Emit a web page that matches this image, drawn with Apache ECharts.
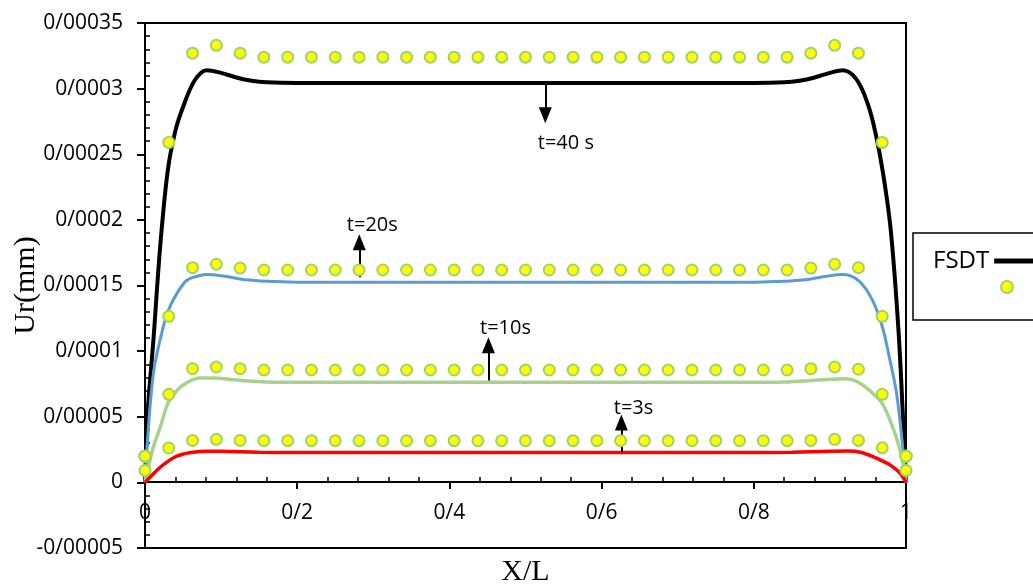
<!DOCTYPE html>
<html><head><meta charset="utf-8">
<script src="https://cdn.jsdelivr.net/npm/echarts@6/dist/echarts.min.js"></script>
<style>html,body{margin:0;padding:0;background:#fff}#c{width:1033px;height:585px}</style>
</head><body><div id="c"></div>
<script>
// ---- tick labels ----
const xTickLabels = ['0', '0/2', '0/4', '0/6', '0/8', '1'];
const yTickLabels = ['-0/00005', '0', '0/00005', '0/0001', '0/00015', '0/0002', '0/00025', '0/0003', '0/00035'];

// ---- FSDT curves (X/L, Ur in mm) ----
const x40 = [0, 0.004, 0.011, 0.02, 0.03, 0.04, 0.05, 0.065, 0.081, 0.1, 0.12, 0.14, 0.16, 0.2, 0.5, 0.8, 0.84, 0.86, 0.88, 0.9, 0.917, 0.935, 0.95, 0.96, 0.97, 0.98, 0.99, 0.996, 1];
const y40 = [0, 5.7e-5, 1.08e-4, 1.80e-4, 2.38e-4, 2.68e-4, 2.86e-4, 3.06e-4, 3.14e-4, 3.12e-4, 3.085e-4, 3.06e-4, 3.048e-4, 3.043e-4, 3.043e-4, 3.043e-4, 3.048e-4, 3.06e-4, 3.085e-4, 3.12e-4, 3.14e-4, 3.07e-4, 2.88e-4, 2.66e-4, 2.35e-4, 1.92e-4, 1.17e-4, 5.0e-5, 0];

const x20 = [0, 0.003, 0.011, 0.02, 0.03, 0.042, 0.055, 0.068, 0.081, 0.1, 0.12, 0.14, 0.17, 0.2, 0.5, 0.8, 0.83, 0.86, 0.88, 0.9, 0.917, 0.938, 0.956, 0.969, 0.978, 0.987, 0.993, 1];
const y20 = [0, 3.0e-5, 8.3e-5, 1.09e-4, 1.30e-4, 1.44e-4, 1.54e-4, 1.57e-4, 1.583e-4, 1.575e-4, 1.555e-4, 1.54e-4, 1.53e-4, 1.525e-4, 1.525e-4, 1.525e-4, 1.53e-4, 1.54e-4, 1.555e-4, 1.575e-4, 1.583e-4, 1.535e-4, 1.387e-4, 1.184e-4, 9.55e-5, 7.0e-5, 4.2e-5, 0];

const x10 = [0, 0.005, 0.011, 0.02, 0.03, 0.042, 0.055, 0.072, 0.09, 0.11, 0.13, 0.16, 0.2, 0.5, 0.8, 0.84, 0.87, 0.9, 0.921, 0.935, 0.947, 0.958, 0.969, 0.9825, 0.9934, 1];
const y10 = [0, 1.3e-5, 2.7e-5, 4.2e-5, 6.0e-5, 7.0e-5, 7.6e-5, 7.95e-5, 7.95e-5, 7.85e-5, 7.75e-5, 7.65e-5, 7.62e-5, 7.62e-5, 7.62e-5, 7.65e-5, 7.75e-5, 7.85e-5, 7.9e-5, 7.7e-5, 7.26e-5, 6.7e-5, 6.0e-5, 4.2e-5, 2.2e-5, 0];

const x3 = [0, 0.01, 0.02, 0.03, 0.04, 0.05, 0.06, 0.08, 0.1, 0.15, 0.2, 0.5, 0.8, 0.85, 0.9, 0.923, 0.94, 0.958, 0.97, 0.98, 0.993, 1];
const y3 = [0, 6.0e-6, 1.15e-5, 1.6e-5, 1.95e-5, 2.15e-5, 2.28e-5, 2.38e-5, 2.37e-5, 2.3e-5, 2.28e-5, 2.28e-5, 2.28e-5, 2.3e-5, 2.37e-5, 2.39e-5, 2.3e-5, 1.93e-5, 1.6e-5, 1.3e-5, 6.6e-6, 0];

// ---- reference points (dots) ----
const dotX = [0, 0.03125, 0.0625, 0.09375, 0.125, 0.15625, 0.1875, 0.21875, 0.25, 0.28125, 0.3125, 0.34375, 0.375, 0.40625, 0.4375, 0.46875, 0.5, 0.53125, 0.5625, 0.59375, 0.625, 0.65625, 0.6875, 0.71875, 0.75, 0.78125, 0.8125, 0.84375, 0.875, 0.90625, 0.9375, 0.96875, 1];
const dot40 = [2.0e-5, 2.59e-4, 3.27e-4, 3.33e-4, 3.27e-4, 3.24e-4, 3.24e-4, 3.24e-4, 3.24e-4, 3.24e-4, 3.24e-4, 3.24e-4, 3.24e-4, 3.24e-4, 3.24e-4, 3.24e-4, 3.24e-4, 3.24e-4, 3.24e-4, 3.24e-4, 3.24e-4, 3.24e-4, 3.24e-4, 3.24e-4, 3.24e-4, 3.24e-4, 3.24e-4, 3.24e-4, 3.27e-4, 3.33e-4, 3.27e-4, 2.59e-4, 2.0e-5];
const dot20 = [2.0e-5, 1.265e-4, 1.636e-4, 1.662e-4, 1.633e-4, 1.618e-4, 1.618e-4, 1.618e-4, 1.618e-4, 1.618e-4, 1.618e-4, 1.618e-4, 1.618e-4, 1.618e-4, 1.618e-4, 1.618e-4, 1.618e-4, 1.618e-4, 1.618e-4, 1.618e-4, 1.618e-4, 1.618e-4, 1.618e-4, 1.618e-4, 1.618e-4, 1.618e-4, 1.618e-4, 1.618e-4, 1.633e-4, 1.662e-4, 1.636e-4, 1.265e-4, 2.0e-5];
const dot10 = [2.0e-5, 6.71e-5, 8.66e-5, 8.79e-5, 8.66e-5, 8.56e-5, 8.56e-5, 8.56e-5, 8.56e-5, 8.56e-5, 8.56e-5, 8.56e-5, 8.56e-5, 8.56e-5, 8.56e-5, 8.56e-5, 8.56e-5, 8.56e-5, 8.56e-5, 8.56e-5, 8.56e-5, 8.56e-5, 8.56e-5, 8.56e-5, 8.56e-5, 8.56e-5, 8.56e-5, 8.56e-5, 8.66e-5, 8.79e-5, 8.62e-5, 6.71e-5, 2.0e-5];
const dot3 = [9.1e-6, 2.62e-5, 3.2e-5, 3.28e-5, 3.2e-5, 3.18e-5, 3.18e-5, 3.18e-5, 3.18e-5, 3.18e-5, 3.18e-5, 3.18e-5, 3.18e-5, 3.18e-5, 3.18e-5, 3.18e-5, 3.18e-5, 3.18e-5, 3.18e-5, 3.18e-5, 3.18e-5, 3.18e-5, 3.18e-5, 3.18e-5, 3.18e-5, 3.18e-5, 3.18e-5, 3.18e-5, 3.2e-5, 3.28e-5, 3.2e-5, 2.63e-5, 9.1e-6];

// ---- annotations: label, arrow x, arrow from y, arrow tip y, text x, text y ----
const annLabels = ['t=40 s', 't=20s', 't=10s', 't=3s'];
const annArrowX = [0.526, 0.2816, 0.4513, 0.626];
const annFromY = [3.043e-4, 1.563e-4, 7.77e-5, 2.29e-5];
const annToY = [2.797e-4, 1.829e-4, 1.044e-4, 4.57e-5];
const annTextX = [0.553, 0.2987, 0.4737, 0.642];
const annTextY = [2.584e-4, 1.959e-4, 1.174e-4, 5.64e-5];

const pts = (xs, ys) => xs.map((x, i) => [x, ys[i]]);
const SANS = 'Open Sans';
const SERIF = 'Liberation Serif';
const Y_MIN = -0.00005, Y_MAX = 0.00035, Y_STEP = 0.00005;

const chart = echarts.init(document.getElementById('c'), null, { renderer: 'canvas' });

const lineSeries = (name, xs, ys, color, width, z) => ({
  type: 'line', name, data: pts(xs, ys), smooth: 0.35, symbol: 'none', z,
  xAxisIndex: 0, yAxisIndex: 0,
  lineStyle: { color, width }, itemStyle: { color }, animation: false
});
const dotSeries = (ys) => ({
  type: 'scatter', name: 'Ref', data: pts(dotX, ys), symbol: 'circle', symbolSize: 11, z: 5,
  xAxisIndex: 0, yAxisIndex: 0,
  itemStyle: { color: '#FFFF00', borderColor: '#9ED36A', borderWidth: 2, opacity: 1 }, animation: false
});

const black = lineSeries('FSDT', x40, y40, '#000000', 4, 2);
black.markLine = {
  silent: true, animation: false, symbol: ['none', 'triangle'], symbolSize: [13, 16],
  lineStyle: { color: '#000', width: 2, type: 'solid' }, label: { show: false },
  data: annArrowX.map((x, i) => [
    { coord: [x, annFromY[i]], symbol: 'none' },
    { coord: [x, annToY[i]], symbol: 'triangle', symbolSize: [13, 16] }
  ])
};
black.markPoint = {
  silent: true, animation: false, symbol: 'circle', symbolSize: 1,
  itemStyle: { color: 'rgba(0,0,0,0)' },
  label: { show: true, position: 'inside', formatter: '{b}', color: '#000', fontFamily: SANS, fontSize: 20 },
  data: annLabels.map((t, i) => ({ name: t, coord: [annTextX[i], annTextY[i]] }))
};

// full plot rectangle, and the upper part of it that ends at the zero line
const fullBox = { left: 145, right: 127, top: 23, bottom: 37, outerBoundsMode: 'none', containLabel: false };
const upperBox = { left: 145, right: 127, top: 23, bottom: 103, outerBoundsMode: 'none', containLabel: false };

const hiddenX = (g) => ({ gridIndex: g, type: 'value', min: 0, max: 1, show: false });
const hiddenYUpper = (g) => ({ gridIndex: g, type: 'value', min: 0, max: Y_MAX, show: false });

const option = {
  animation: false,
  backgroundColor: '#fff',
  grid: [
    Object.assign({ show: true, borderColor: '#000', borderWidth: 2, backgroundColor: 'transparent' }, fullBox),
    Object.assign({ show: false }, fullBox),
    Object.assign({ show: false }, upperBox),
    Object.assign({ show: false }, upperBox)
  ],
  xAxis: [
    hiddenX(0),
    hiddenX(1),
    { // main X axis, drawn along the zero line
      gridIndex: 2, type: 'value', min: 0, max: 1, interval: 0.2, position: 'bottom',
      name: 'X/L', nameLocation: 'middle', nameGap: 75, nameMoveOverlap: false,
      nameTextStyle: { fontFamily: SERIF, fontSize: 30, color: '#000' },
      axisLine: { show: true, onZero: false, lineStyle: { color: '#000', width: 2 } },
      axisTick: { show: true, inside: false, length: 7, lineStyle: { color: '#000', width: 2 } },
      splitLine: { show: false },
      axisLabel: { margin: 21, color: '#000', fontFamily: SANS, fontSize: 21,
        formatter: v => xTickLabels[Math.round(v / 0.2)] }
    },
    { // inside minor ticks of the X axis
      gridIndex: 3, type: 'value', min: 0, max: 1, interval: 0.2, position: 'bottom',
      axisLine: { show: false, onZero: false },
      axisTick: { show: false, inside: true },
      minorTick: { show: true, splitNumber: 5, length: 5, lineStyle: { color: '#000', width: 1.5 } },
      splitLine: { show: false }, minorSplitLine: { show: false },
      axisLabel: { show: false }
    }
  ],
  yAxis: [
    {
      gridIndex: 0, type: 'value', min: Y_MIN, max: Y_MAX, interval: Y_STEP,
      name: 'Ur(mm)', nameLocation: 'middle', nameGap: 104, nameRotate: 90, nameMoveOverlap: false,
      nameTextStyle: { fontFamily: SERIF, fontSize: 30, color: '#000' },
      axisLine: { show: true, onZero: false, lineStyle: { color: '#000', width: 2 } },
      axisTick: { show: true, inside: false, length: 8, lineStyle: { color: '#000', width: 2 } },
      splitLine: { show: false },
      axisLabel: { margin: 22, color: '#000', fontFamily: SANS, fontSize: 21,
        formatter: v => yTickLabels[Math.round((v - Y_MIN) / Y_STEP)] }
    },
    {
      gridIndex: 1, type: 'value', min: Y_MIN, max: Y_MAX, interval: Y_STEP,
      axisLine: { show: false, onZero: false },
      axisTick: { show: false, inside: true },
      minorTick: { show: true, splitNumber: 5, length: 5, lineStyle: { color: '#000', width: 1.5 } },
      splitLine: { show: false }, minorSplitLine: { show: false },
      axisLabel: { show: false }
    },
    hiddenYUpper(2),
    hiddenYUpper(3)
  ],
  legend: [
    { data: [{ name: 'FSDT', icon: 'rect' }], left: 933, top: 249, padding: 0, orient: 'vertical', align: 'right',
      itemWidth: 70, itemHeight: 5, itemGap: 0, selectedMode: false,
      textStyle: { fontFamily: SANS, fontSize: 24, color: '#000' } },
    { data: ['Ref'], left: 1000, top: 280, padding: 0, orient: 'vertical', align: 'left',
      itemWidth: 12, itemHeight: 12, selectedMode: false, formatter: () => '',
      textStyle: { fontSize: 1 } }
  ],
  graphic: [
    { type: 'rect', x: 913, y: 233, z: 0, silent: true,
      shape: { x: 0, y: 0, width: 140, height: 87 },
      style: { fill: '#fff', stroke: '#000', lineWidth: 1.5 } }
  ],
  series: [
    black,
    lineSeries('t=20s', x20, y20, '#5B9BD5', 3, 2),
    lineSeries('t=10s', x10, y10, '#A9D18E', 3.5, 2),
    lineSeries('t=3s', x3, y3, '#FF0000', 3.5, 2),
    dotSeries(dot40), dotSeries(dot20), dotSeries(dot10), dotSeries(dot3)
  ]
};
chart.setOption(option);
</script>
</body></html>
